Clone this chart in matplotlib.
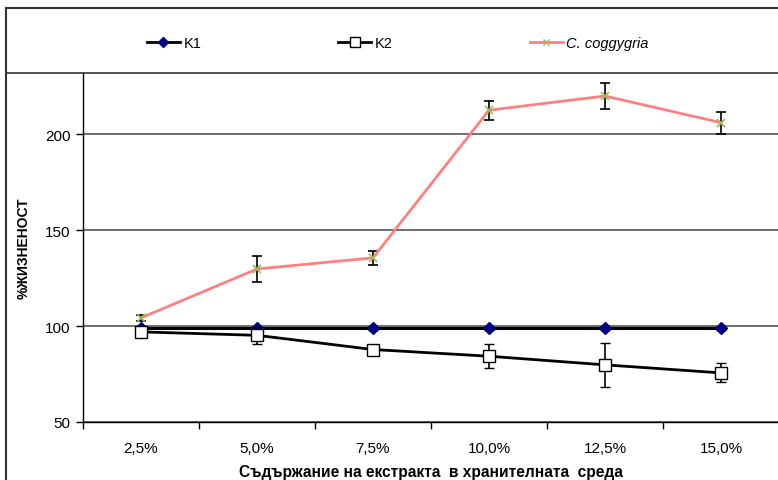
import matplotlib
matplotlib.use("Agg")
import matplotlib.pyplot as plt
from matplotlib.lines import Line2D
import numpy as np

plt.rcParams['font.family'] = ['Liberation Sans', 'DejaVu Sans']

categories = ["2,5%", "5,0%", "7,5%", "10,0%", "12,5%", "15,0%"]
k1 = [98.8, 98.8, 98.8, 98.8, 98.8, 98.8]
k1_err = [0.6, 0.6, 0.6, 0.6, 0.6, 0.6]
k2 = [97.0, 95.2, 87.8, 84.3, 79.8, 75.6]
k2_err = [1.0, 4.5, 1.2, 6.4, 11.4, 5.0]
cc = [104.3, 129.8, 135.6, 212.6, 220.0, 206.1]
cc_err = [1.5, 6.8, 3.5, 4.9, 6.8, 5.8]

W, H = 778, 481
fig = plt.figure(figsize=(W / 100, H / 100), dpi=100)
ax = fig.add_axes([83 / W, (H - 423) / H, (779 - 83) / W, (423 - 74) / H])

x = np.arange(len(categories))

ax.errorbar(x, k1, yerr=k1_err, color='black', lw=2.2, marker='D', ms=6,
            mfc='#000080', mec='#000080', ecolor='black', elinewidth=1,
            capsize=3.5, capthick=1, zorder=3)
ax.errorbar(x, k2, yerr=k2_err, color='black', lw=2.0, marker='s', ms=8,
            mfc='white', mec='black', mew=1.0, ecolor='black', elinewidth=1.2,
            capsize=3.5, capthick=1.2, zorder=4)
ax.errorbar(x, cc, yerr=cc_err, color='#FF8080', lw=2.0, marker='x', ms=6,
            mec='#9BBB59', mew=1.2, ecolor='black', elinewidth=1.2,
            capsize=3.5, capthick=1.2, zorder=2)

ax.set_xlim(-0.5, len(categories) - 0.5)
ax.set_ylim(50, 232)
ax.set_yticks([50, 100, 150, 200])
ax.set_xticks(x)
ax.set_xticklabels(categories)
ax.set_xticks(np.arange(-0.5, len(categories), 1.0), minor=True)
ax.tick_params(axis='x', which='major', length=0, pad=14, labelsize=11)
ax.tick_params(axis='x', which='minor', length=5, width=1, direction='out')
ax.tick_params(axis='y', which='major', length=5, width=1, direction='out', labelsize=11, pad=4)

ax.grid(axis='y', color='#555555', lw=1.2)
ax.set_axisbelow(True)
for s in ['top', 'right']:
    ax.spines[s].set_visible(False)
ax.spines['left'].set_linewidth(1)
ax.spines['bottom'].set_linewidth(1)

ax.set_ylabel('%ЖИЗНЕНОСТ', fontsize=10, fontweight='bold', labelpad=10)
ax.set_xlabel('Съдържание на екстракта  в хранителната  среда', fontsize=11.2,
              fontweight='bold', labelpad=6)

# outer border lines
fig.add_artist(Line2D([6 / W, 6 / W], [0, 1 - 9 / H], transform=fig.transFigure,
                      color='#333333', lw=1.5))
fig.add_artist(Line2D([6 / W, 1], [1 - 9 / H, 1 - 9 / H], transform=fig.transFigure,
                      color='#333333', lw=1.5))
fig.add_artist(Line2D([6 / W, 1], [1 - 74 / H, 1 - 74 / H], transform=fig.transFigure,
                      color='#333333', lw=1.2))

handles = [
    Line2D([], [], color='black', lw=2, marker='D', ms=5, mfc='#000080', mec='#000080'),
    Line2D([], [], color='black', lw=2, marker='s', ms=7, mfc='white', mec='black'),
    Line2D([], [], color='#FF8080', lw=2, marker='x', ms=5, mec='#9BBB59'),
]
leg = fig.legend(handles, ['K1', 'K2', 'C. coggygria'], ncol=3, frameon=False,
                 loc='center left', bbox_to_anchor=(147 / W, 1 - 44 / H),
                 fontsize=10.5, handlelength=2.25, handletextpad=0.25,
                 columnspacing=9.4, borderpad=0, borderaxespad=0)
leg.get_texts()[2].set_style('italic')

fig.savefig('out.png', dpi=100)
